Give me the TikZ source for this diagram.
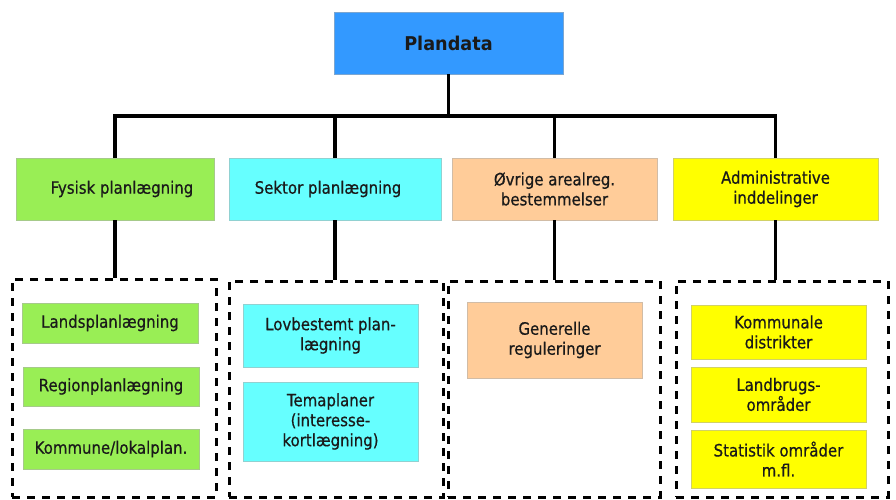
\documentclass[tikz,border=0pt]{standalone}
\usepackage{fontspec}
\setmainfont{DejaVu Sans}[FakeStretch=0.88, FakeBold=0.6]
\newfontfamily\titlefont{DejaVu Sans}[FakeStretch=0.93]
\definecolor{cblue}{HTML}{3399FF}
\definecolor{cgreen}{HTML}{99EE55}
\definecolor{ccyan}{HTML}{66FFFF}
\definecolor{cpeach}{HTML}{FFCC99}
\definecolor{cyel}{HTML}{FFFF00}
\definecolor{ctext}{HTML}{1A1A1A}
\begin{document}
\begin{tikzpicture}[x=1pt,y=-1pt,
  box/.style={draw=#1!70!black!60, line width=0.8pt, fill=#1, inner sep=0pt, align=center,
    text=ctext, font=\fontsize{17}{20}\selectfont},
  dbox/.style={draw=black, line width=3pt, dash pattern=on 8pt off 7pt, inner sep=0pt},
  conn/.style={draw=black, line width=3.2pt}]
\useasboundingbox (0,0) rectangle (896,499);
\fill[white] (0,0) rectangle (896,499);
% top
\node[box=cblue, minimum width=229pt, minimum height=62pt, font=\titlefont\fontsize{19}{22}\selectfont\bfseries] (pd) at (448.5,43) {Plandata};
% level 1
\node[box=cgreen, minimum width=198pt, minimum height=62pt] (f1) at (115,189) {\hspace*{14pt}Fysisk planlægning};
\node[box=ccyan, minimum width=212pt, minimum height=62pt] (f2) at (335,189) {Sektor planlægning\hspace*{14pt}};
\node[box=cpeach, minimum width=205pt, minimum height=62pt] (f3) at (554.5,189) {Øvrige arealreg.\\bestemmelser};
\node[box=cyel, minimum width=205pt, minimum height=62pt] (f4) at (775.5,189) {Administrative\\inddelinger};
% dashed groups
\node[dbox, minimum width=204pt, minimum height=218pt] (d1) at (114,388) {};
\node[dbox, minimum width=214pt, minimum height=216pt] (d2) at (336,389) {};
\node[dbox, minimum width=212pt, minimum height=216pt] (d3) at (554,389) {};
\node[dbox, minimum width=212pt, minimum height=216pt] (d4) at (782,389) {};
% inner boxes
\node[box=cgreen, minimum width=176pt, minimum height=40pt] (a1) at (110,323) {Landsplanlægning};
\node[box=cgreen, minimum width=176pt, minimum height=39pt] (a2) at (111,386.5) {Regionplanlægning};
\node[box=cgreen, minimum width=176pt, minimum height=40pt] (a3) at (111,449) {Kommune/lokalplan.};
\node[box=ccyan, minimum width=175pt, minimum height=63pt] (b1) at (330.5,335.5) {Lovbestemt plan-\\lægning};
\node[box=ccyan, minimum width=175pt, minimum height=79pt] (b2) at (330.5,421.5) {Temaplaner\\(interesse-\\kortlægning)};
\node[box=cpeach, minimum width=175pt, minimum height=76pt] (c1) at (554.5,340) {Generelle\\reguleringer};
\node[box=cyel, minimum width=175pt, minimum height=54pt] (e1) at (778.5,332) {Kommunale\\distrikter};
\node[box=cyel, minimum width=175pt, minimum height=55pt] (e2) at (778.5,394.5) {Landbrugs-\\områder};
\node[box=cyel, minimum width=175pt, minimum height=58pt] (e3) at (778.5,459) {Statistik områder\\m.fl.};
% connectors
\coordinate (bus) at (0,116);
\draw[conn] (pd.south) -- (pd.south |- bus) -| (f1.north);
\draw[conn] (pd.south |- bus) -| (f4.north);
\draw[conn] (f2.north |- bus) -- (f2.north);
\draw[conn] (f3.north |- bus) -- (f3.north);
\draw[conn] (f1.south) -- (f1.south |- d1.north);
\draw[conn] (f2.south) -- (f2.south |- d2.north);
\draw[conn] (f3.south) -- (f3.south |- d3.north);
\draw[conn] (f4.south) -- (f4.south |- d4.north);
\end{tikzpicture}
\end{document}
